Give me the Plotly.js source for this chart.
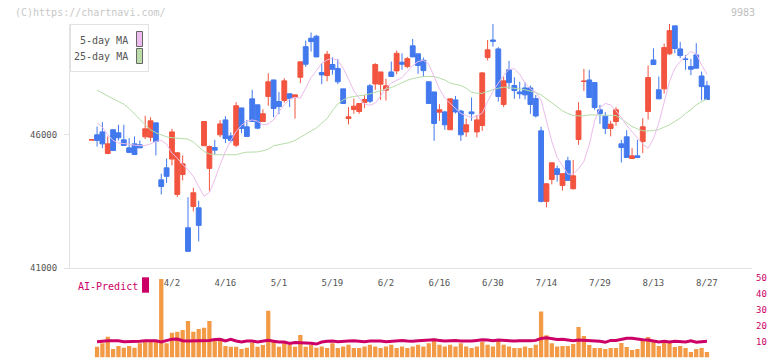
<!DOCTYPE html>
<html><head><meta charset="utf-8">
<script src="https://cdn.plot.ly/plotly-3.0.1.min.js"></script>
<style>html,body{margin:0;padding:0;background:#fff;}#chart{width:772px;height:361px;}</style>
</head><body><div id="chart"></div>
<script>
const dates = ['3/11','3/12','3/13','3/14','3/17','3/18','3/19','3/21','3/24','3/25','3/26','3/27','3/28','3/31','4/1',
'4/2','4/3','4/4','4/7','4/8','4/9','4/10','4/11','4/14','4/15','4/16','4/17','4/18','4/21','4/22','4/23','4/24','4/25','4/28','4/30',
'5/1','5/2','5/7','5/8','5/9','5/12','5/13','5/14','5/15','5/16','5/19','5/20','5/21','5/22','5/23','5/26','5/27','5/28','5/29','5/30',
'6/2','6/3','6/4','6/5','6/6','6/9','6/10','6/11','6/12','6/13','6/16','6/17','6/18','6/19','6/20','6/23','6/24','6/25','6/26','6/27','6/30',
'7/1','7/2','7/3','7/4','7/7','7/8','7/9','7/10','7/11','7/14','7/15','7/16','7/17','7/18','7/22','7/23','7/24','7/25','7/28','7/29','7/30','7/31',
'8/1','8/4','8/5','8/6','8/7','8/8','8/12','8/13','8/14','8/15','8/18','8/19','8/20','8/21','8/22','8/25','8/26','8/27'];

const openP = [45800,46000,46110,45300,46190,46075,45810,45510,45660,45625,
45925,45910,46450,44310,44760,45090,43760,44510,42510,43310,
43260,45590,44740,45525,46000,46560,45960,45610,47010,46300,
47350,47125,46500,47440,48060,47250,47290,47540,47410,48160,
49310,49625,49700,48340,48225,48640,48490,47725,46610,46950,
46875,47210,47840,47910,47900,47675,48360,48400,48725,48560,
49340,49040,48800,47990,47610,46850,46860,46190,47310,46890,
46110,46860,46110,46350,48900,49560,49225,47140,48440,47850,
47610,47760,47760,47360,46150,43500,44325,44725,44100,45025,
43975,45825,48000,48060,47960,46940,46700,46240,46500,45660,
45925,45110,45210,45750,46875,48810,47690,47725,49040,50090,
49225,48850,48560,49000,48210,47840];
const highP = [45820,46310,46475,45940,46210,46375,46375,45875,45940,45790,
46710,46660,46450,44540,45110,46225,45350,45225,43660,44010,
43525,46500,45600,45810,46550,46700,46090,47225,47010,46560,
47690,47125,46960,48310,48060,47610,48125,47560,47500,48740,
49540,49840,49750,48690,49150,48910,48840,47725,47040,47360,
47175,47490,47910,48690,48360,48100,48750,49160,49060,48925,
49600,49040,48900,48010,47610,47150,46900,47350,47460,46940,
46610,47400,46750,48360,49560,50160,49290,48175,48775,48160,
47990,47975,47850,47490,46300,44190,44950,44840,44540,45175,
45050,47225,48475,48440,47960,47125,46850,46525,47040,45810,
46175,45500,45810,46625,48600,49250,48190,49425,50160,50090,
49490,49000,48850,49440,48375,48025];
const lowP = [45800,45560,45500,45300,45410,45790,45600,45310,45260,45510,
45840,45750,45225,43760,44190,44850,43660,44290,41625,43125,
42000,45590,43875,45240,45910,45690,45710,45540,46060,45940,
46500,46210,46500,47090,46660,46775,47210,47040,46610,47940,
48550,49125,48925,47900,48010,48260,47900,47175,46390,46790,
46790,47000,47190,47690,47310,47290,48190,48275,48440,48500,
48925,48290,48175,47175,45775,46525,46190,46190,46800,45775,
45925,46525,45900,46150,48790,49310,47250,47040,47725,47350,
47350,47325,46790,46650,43460,43275,44140,44240,43910,44290,
43950,45625,47650,47400,46940,46410,46025,45940,46340,44960,
45150,45090,45150,45310,46575,48640,47350,47550,49000,49060,
48875,48440,48240,48500,47290,47325];
const closeP = [45820,45790,45660,45660,45410,45890,45600,45340,45260,45510,
46225,46525,45750,44060,44440,46110,45325,44910,41625,43825,
42600,46500,45560,45425,46410,45860,45790,47090,46240,45940,
46500,46250,46790,47990,46990,47060,48025,47360,47500,48740,
48650,49500,48925,48250,49025,48460,47990,47175,46675,47075,
47175,47325,47260,48640,48360,47840,48190,49060,48650,48860,
48925,48600,48410,47175,46425,46940,46375,47350,46860,46000,
46375,46790,46560,48325,49190,49510,47440,48025,47960,47660,
47540,47500,47140,46710,43500,44160,44950,44510,44540,44290,
44460,46900,48015,47400,47025,46790,46240,46400,46940,45525,
45150,45210,45150,46300,48150,48640,47350,49275,49910,49240,
48975,48830,48460,48500,47810,47325];

const ma5 = [null,46450,46290,46000,45790,45690,45675,45650,45610,45590,
45600,45660,45750,45790,45650,45310,45125,44875,44690,44440,
44060,43690,43840,44310,44875,45375,45790,46125,46360,46500,
46560,46510,46375,46410,46560,46875,47125,47340,47410,47375,
47750,48150,48410,48690,48810,48875,48790,48500,48090,47650,
47375,47160,47110,47190,47460,47750,47940,48050,48150,48375,
48600,48750,48800,48650,48190,47725,47375,47175,47000,46800,
46725,46650,46710,46810,47250,47625,47940,48225,48460,48475,
48275,47940,47725,47600,47300,46550,45750,45150,44810,44525,
44525,44725,45000,45625,46525,47000,47175,47125,46900,46650,
46350,46125,45900,45650,45500,45850,46440,47250,48000,48500,
48750,48950,49125,49040,48625,48275];
const ma25 = [null,47675,47560,47460,47350,47250,47150,46990,46775,46560,
46375,46190,46075,46000,45925,45890,45875,45860,45840,45725,
45560,45375,45275,45250,45250,45250,45250,45250,45310,45350,
45350,45360,45400,45460,45590,45625,45660,45710,45790,45910,
46000,46125,46260,46440,46610,46910,47160,47310,47400,47440,
47460,47490,47540,47600,47660,47710,47775,47860,47960,48050,
48110,48150,48190,48190,48190,48125,48060,47940,47900,47850,
47750,47600,47560,47560,47625,47700,47750,47790,47775,47750,
47725,47690,47650,47590,47500,47350,47190,47060,46900,46800,
46725,46710,46710,46750,46750,46750,46750,46750,46725,46600,
46440,46310,46225,46150,46150,46160,46200,46275,46375,46500,
46625,46800,46940,47125,47250,47350];

const aiBars = [null,6.8,9.0,13.1,5.4,7.3,6.2,7.3,6.2,9.0,
10.4,10.4,10.4,49.6,9.0,15.6,16.3,17.4,23.0,16.3,
18.0,18.8,23.0,10.4,10.4,7.3,6.8,6.8,5.4,6.2,
9.5,6.8,7.9,29.5,10.0,6.8,9.5,7.9,6.8,14.2,
6.8,7.9,6.2,7,6,9,6,7,8,6,
6,7,8,7,6,7,8,6,7,6,
7,8,7,9,12,8,7,8,7,9,
7,6,7,10,8,7,11,8,7,6,
6,7,6,8,29,14,9,7,7.3,7.3,
8.6,19.3,13.6,7.9,6.0,6.0,5.4,6.0,6.0,9.2,
6.6,4.8,5.4,11.1,13.0,10.4,7.3,9.2,9.8,6.6,
7.3,6.0,3.5,5.4,6.0,3.5];
const aiLine = [null,10.0,10.4,10.6,10.6,10.6,10.0,10.0,10.0,10.3,
10.6,10.6,10.6,9.8,10.6,11.6,11.7,10.6,10.4,10.4,
10.4,10.8,10.8,11.3,11.5,10.4,11.5,10.4,9.8,10.4,
10.4,9.8,10.4,10.8,10.3,9.8,9.8,8.9,9.4,9.4,
9.4,9.0,8.5,9.8,10.2,10.4,10.0,10.0,10.4,10.6,
10.2,10.0,10.4,10.6,10.4,10.0,10.2,10.6,10.8,10.4,
10.2,10.6,10.8,11.0,11.2,10.8,10.4,10.6,10.8,10.4,
10.2,10.4,10.8,11.2,11.0,10.6,11.0,10.8,10.4,10.4,
10.6,10.4,10.6,10.8,12.0,12.4,11.8,11.4,11.5,11.0,
10.6,11.0,10.8,10.8,10.8,10.2,9.6,10.8,10.8,11.5,
12.1,12.1,11.5,11.2,11.0,10.2,9.8,10.2,9.8,10.2,
10.2,9.8,10.6,9.6,10.0,10.2];

const dateTickLabels = ['4/2','4/16','5/1','5/19','6/2','6/16','6/30','7/14','7/29','8/13','8/27'];
const priceTicks = [41000, 46000];
const aiTicks = [0, 10, 20, 30, 40, 50];

const xIdx = dates.map((d, i) => i);
const dateTickVals = dateTickLabels.map(l => dates.indexOf(l));

const W = 772, H = 361, L = 70, R = 20;
const px = v => (v - L) / (W - L - R);
const py = v => (H - v) / H;
const xRange = [-4.056, 123.42];
const gridStep = 11.589;
const gridVals = [];
for (let k = 0; k <= 10; k++) gridVals.push(7.589 + gridStep * k);

const mono = 'DejaVu Sans Mono, Liberation Mono, monospace';
const RED = '#f2543f', BLUE = '#4279ee';

const traces = [
  {type: 'scatter', mode: 'lines', x: xIdx, y: ma25, line: {color: '#b5dca8', width: 1}, hoverinfo: 'skip', xaxis: 'x', yaxis: 'y'},
  {type: 'scatter', mode: 'lines', x: xIdx, y: ma5, line: {color: '#ecbcec', width: 1}, hoverinfo: 'skip', xaxis: 'x', yaxis: 'y'},
  {type: 'candlestick', x: xIdx, open: openP, high: highP, low: lowP, close: closeP,
   increasing: {line: {color: RED, width: 1}, fillcolor: RED},
   decreasing: {line: {color: BLUE, width: 1}, fillcolor: BLUE},
   whiskerwidth: 0, xaxis: 'x', yaxis: 'y', hoverinfo: 'skip'},
  {type: 'bar', x: xIdx, y: aiBars, marker: {color: '#f39a47', line: {width: 0}}, width: 0.8, xaxis: 'x', yaxis: 'y2', hoverinfo: 'skip'},
  {type: 'scatter', mode: 'lines', x: xIdx, y: aiLine, line: {color: '#cc0066', width: 3}, xaxis: 'x', yaxis: 'y2', hoverinfo: 'skip'}
];

const annFont = {family: mono, size: 10, color: '#555'};
const layout = {
  width: W, height: H, margin: {l: L, r: R, t: 0, b: 0},
  paper_bgcolor: '#fff', plot_bgcolor: 'rgba(0,0,0,0)',
  showlegend: false, hovermode: false, boxgap: 0.1, boxgroupgap: 0,
  bargap: 0.2,
  xaxis: {range: xRange, domain: [0, 1], anchor: 'y', showgrid: false, zeroline: false,
          showline: true, linecolor: '#e2e2e2', linewidth: 1,
          tickmode: 'array', tickvals: dateTickVals, ticktext: dateTickLabels,
          ticks: 'outside', ticklen: 6, tickcolor: 'rgba(0,0,0,0)',
          tickfont: {family: mono, size: 9, color: '#555'},
          rangeslider: {visible: false}, fixedrange: true},
  xaxis2: {range: xRange, overlaying: 'x', anchor: 'y', side: 'bottom', showgrid: false, zeroline: false,
           showline: false, tickmode: 'array', tickvals: gridVals, ticks: 'inside', ticklen: 4,
           tickcolor: '#e2e2e2', showticklabels: false},
  yaxis: {domain: [py(268), py(24)], range: [41000, 50160], anchor: 'x', showgrid: false, zeroline: false,
          showline: true, linecolor: '#e2e2e2', linewidth: 1,
          tickmode: 'array', tickvals: priceTicks, ticktext: priceTicks.map(String),
          ticks: 'outside', ticklen: 5, tickcolor: '#e2e2e2', ticklabelstandoff: 5,
          tickfont: {family: mono, size: 9, color: '#555'}},
  yaxis3: {overlaying: 'y', range: [41000, 50160], anchor: 'x', side: 'left', showgrid: false, zeroline: false,
           showline: false, tickmode: 'array', tickvals: priceTicks, ticks: 'inside', ticklen: 4,
           tickcolor: '#e2e2e2', showticklabels: false},
  yaxis2: {domain: [py(357.5), py(278.3)], range: [0, 50], anchor: 'x', side: 'right', showgrid: false,
           zeroline: false, showline: false, tickmode: 'array', tickvals: aiTicks, ticks: '',
           tickfont: {family: mono, size: 9, color: '#cc0066'}, ticklabelstandoff: 3},
  shapes: [
    {type: 'rect', xref: 'paper', yref: 'paper', x0: px(70.5), x1: px(148.5), y0: py(71.5), y1: py(24.5),
     line: {color: '#e2e2e2', width: 1}, fillcolor: '#fff', layer: 'above'},
    {type: 'rect', xref: 'paper', yref: 'paper', x0: px(136.5), x1: px(142.5), y0: py(46.5), y1: py(31.5),
     line: {color: '#666', width: 1}, fillcolor: '#eebbee', layer: 'above'},
    {type: 'rect', xref: 'paper', yref: 'paper', x0: px(136.5), x1: px(142.5), y0: py(63.5), y1: py(48.5),
     line: {color: '#666', width: 1}, fillcolor: '#bbddaa', layer: 'above'},
    {type: 'rect', xref: 'paper', yref: 'paper', x0: px(142), x1: px(149), y0: py(292.7), y1: py(277.3),
     line: {width: 0}, fillcolor: '#cc0066', layer: 'above'}
  ],
  annotations: [
    {xref: 'paper', yref: 'paper', x: px(13), y: py(12), xanchor: 'left', yanchor: 'middle', showarrow: false,
     text: '(C)https://chartnavi.com/', font: {family: mono, size: 10, color: '#c8c8c8'}},
    {xref: 'paper', yref: 'paper', x: px(757), y: py(12), xanchor: 'right', yanchor: 'middle', showarrow: false,
     text: '9983', font: {family: mono, size: 10, color: '#c0c0c0'}},
    {xref: 'paper', yref: 'paper', x: px(130), y: py(40), xanchor: 'right', yanchor: 'middle', showarrow: false,
     text: '5-day MA', font: annFont},
    {xref: 'paper', yref: 'paper', x: px(130), y: py(56.5), xanchor: 'right', yanchor: 'middle', showarrow: false,
     text: '25-day MA', font: annFont},
    {xref: 'paper', yref: 'paper', x: px(75.5), y: py(286), xanchor: 'left', yanchor: 'middle', showarrow: false,
     text: 'AI-Predict', font: {family: mono, size: 10, color: '#cc0066'}}
  ]
};

Plotly.newPlot('chart', traces, layout, {displayModeBar: false, staticPlot: true});
</script></body></html>
